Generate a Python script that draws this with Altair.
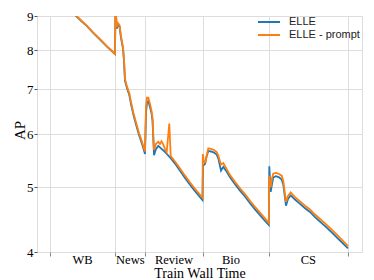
import altair as alt
import pandas as pd

# ---- data (time in arbitrary wall-time units) ----
elle_t = [0, 8, 16, 26, 31, 36.7, 43, 50, 57, 62, 65,
          65.5, 66.7, 68, 69.5, 71, 73, 74, 75, 77, 79.3, 81, 83.3, 86, 89, 92, 95,
          96, 97, 98.3, 100, 101.5, 102.5, 104, 106, 108.3, 111, 114, 117, 120.7, 125, 130, 135, 140, 145, 149, 152.5,
          153, 155, 156.5, 158.3, 161, 164, 166.7, 168.3, 171, 173.3, 176, 180, 185, 190, 195, 200, 205, 210, 215, 218.8,
          219.3, 220.7, 222, 223.3, 226, 229, 231.7, 233.3, 236, 238, 240.7, 245, 250, 255, 260, 265, 270, 276.7, 283, 290, 298]
elle_ap = [12.0, 10.5, 9.6, 9.0, 8.85, 8.7, 8.5, 8.3, 8.1, 7.97, 7.9,
           9.3, 8.62, 8.72, 8.68, 8.35, 8.05, 7.7, 7.2, 7.02, 6.86, 6.65, 6.42, 6.2, 5.98, 5.8, 5.6,
           6.45, 6.68, 6.72, 6.58, 6.45, 6.28, 5.58, 5.7, 5.76, 5.71, 5.66, 5.6, 5.52, 5.42, 5.29, 5.16, 5.04, 4.93, 4.85, 4.78,
           5.38, 5.41, 5.55, 5.66, 5.65, 5.63, 5.59, 5.52, 5.29, 5.36, 5.29, 5.17, 5.05, 4.94, 4.84, 4.73, 4.63, 4.54, 4.45, 4.39,
           5.37, 4.92, 5.05, 5.17, 5.19, 5.17, 5.13, 5.04, 4.69, 4.8, 4.86, 4.79, 4.72, 4.65, 4.59, 4.51, 4.44, 4.35, 4.26, 4.16, 4.05]

prompt_t = [0, 8, 16, 26, 31, 36.7, 43, 50, 57, 62, 65,
            65.5, 66.7, 68, 69.5, 71, 73, 74, 75, 77, 79.3, 81, 83.3, 86, 89, 92, 95,
            96, 97, 98.3, 100, 101.5, 102.5, 104, 106, 108.3, 110, 111.5, 113, 115, 116.7, 119.3, 120.7, 125, 130, 135, 140, 145, 149, 152.5,
            152.8, 154, 155.5, 157, 158.3, 161, 164, 166.7, 168.3, 171, 173.3, 176, 180, 185, 190, 195, 200, 205, 210, 215, 218.8,
            219.3, 220.7, 222, 223.3, 226, 229, 231.7, 233.3, 236, 238, 240.7, 245, 250, 255, 260, 265, 270, 276.7, 283, 290, 298]
prompt_ap = [12.1, 10.55, 9.62, 9.02, 8.87, 8.71, 8.51, 8.31, 8.11, 7.98, 7.9,
             9.6, 8.66, 8.78, 8.72, 8.4, 8.08, 7.75, 7.25, 7.06, 6.9, 6.7, 6.46, 6.24, 6.02, 5.84, 5.65,
             6.6, 6.8, 6.8, 6.65, 6.5, 6.35, 5.68, 5.8, 5.84, 5.8, 5.85, 5.8, 5.7, 5.64, 6.22, 5.56, 5.46, 5.33, 5.2, 5.08, 4.97, 4.89, 4.82,
             5.6, 5.45, 5.45, 5.6, 5.71, 5.7, 5.68, 5.64, 5.57, 5.4, 5.43, 5.34, 5.21, 5.09, 4.98, 4.88, 4.77, 4.67, 4.58, 4.49, 4.42,
             5.2, 5.0, 5.15, 5.24, 5.25, 5.23, 5.2, 5.1, 4.75, 4.85, 4.91, 4.83, 4.76, 4.69, 4.63, 4.55, 4.48, 4.39, 4.3, 4.2, 4.08]

tasks = ["WB", "News", "Review", "Bio", "CS"]
task_centers = [32.6, 80.3, 124, 181, 258.3]
boundaries = [0, 65, 95, 153, 219.3, 298.3]
y_ticks = [4, 5, 6, 7, 8, 9]

series_names = ["ELLE", "ELLE - prompt"]
series_colors = ["#1f77b4", "#ff7f0e"]

df_elle = pd.DataFrame({"t": elle_t, "ap": elle_ap, "series": "ELLE"})
df_prompt = pd.DataFrame({"t": prompt_t, "ap": prompt_ap, "series": "ELLE - prompt"})
df_tasks = pd.DataFrame({"t": task_centers, "task": tasks})

W, H = 325, 236
serif = "Liberation Serif"

x_scale = alt.Scale(domain=[-13, 312], nice=False, zero=False)
y_scale = alt.Scale(type="log", domain=[4, 9], nice=False)
color = alt.Color("series:N",
                  scale=alt.Scale(domain=series_names, range=series_colors),
                  legend=alt.Legend(title=None, orient="none", legendX=225.5, legendY=-0.5,
                                    symbolType="M-2,0L2,0", symbolSize=121, symbolStrokeWidth=2,
                                    labelFont="Liberation Sans", labelFontSize=11, labelColor="#222",
                                    rowPadding=1, padding=0, labelOffset=13.5))

x_enc = alt.X("t:Q", scale=x_scale,
              axis=alt.Axis(values=boundaries, labels=False, ticks=True, tickSize=4,
                            tickColor="#888", domain=False, grid=True, gridColor="#dddddd",
                            title="Train Wall Time", titleFont=serif, titleFontSize=14,
                            titleFontWeight="normal", titleColor="black",
                            titleY=21, titleBaseline="middle"))
y_enc = alt.Y("ap:Q", scale=y_scale,
              axis=alt.Axis(values=y_ticks, format="d", tickSize=3, tickColor="#555",
                            domain=False, grid=True, gridColor="#dddddd",
                            labelFont=serif, labelFontSize=13, labelColor="black", labelPadding=1,
                            title="AP", titleFont=serif, titleFontSize=15, titleFontWeight="normal",
                            titleColor="black", titleX=-18, titleY=114, titleBaseline="middle"))

line_elle = alt.Chart(df_elle).mark_line(strokeWidth=1.8, clip=True).encode(
    x=x_enc, y=y_enc, color=color)
line_prompt = alt.Chart(df_prompt).mark_line(strokeWidth=1.8, clip=True).encode(
    x=alt.X("t:Q", scale=x_scale), y=alt.Y("ap:Q", scale=y_scale), color=color)
labels = alt.Chart(df_tasks).mark_text(font=serif, fontSize=12.5, color="black", baseline="middle").encode(
    x=alt.X("t:Q", scale=x_scale), y=alt.value(H + 8), text="task:N")

chart = alt.layer(line_elle, line_prompt, labels).properties(
    width=W, height=H,
    autosize=alt.AutoSizeParams(type="none"),
    padding={"left": 29, "top": 8, "right": 4, "bottom": 28},
).configure_view(stroke="#555", strokeWidth=1.2).configure(background="white")

chart.save("out.html", embed_options={"renderer": "svg", "actions": False})
